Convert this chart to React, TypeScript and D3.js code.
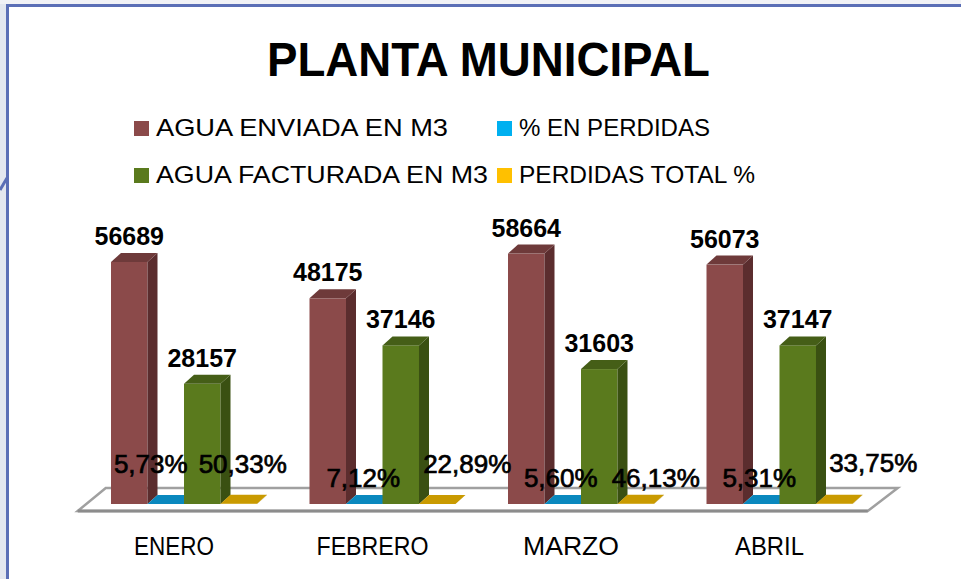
import React from "react";
import * as d3 from "d3";

const categories = ["ENERO", "FEBRERO", "MARZO", "ABRIL"];
const aguaEnviada = [56689, 48175, 58664, 56073];
const perdidasPct = [5.73, 7.12, 5.6, 5.31];
const aguaFacturada = [28157, 37146, 31603, 37147];
const perdidasTotal = [50.33, 22.89, 46.13, 33.75];
const seriesNames = ["AGUA ENVIADA EN M3", "% EN PERDIDAS", "AGUA FACTURADA EN M3", "PERDIDAS TOTAL %"];
const titleText = "PLANTA MUNICIPAL";

// layout (not data)
const W = 961;
const H = 579;
const DX = 10;
const DY = -9;
const pctLabelDx = [-15, -1, -2, -2];
const pctLabelDy = [-31, -17, -17, -17];
const totLabelDx = [4, 30, 20, 39];
const totLabelDy = [-31, -31, -17, -32];

const palette = [
  { legend: "#8B4A4A", front: "#8B4A4A", side: "#5B2D2E", top: "#6E3A3A" },
  { legend: "#00B0F0", front: "#009BD4", side: "#00678F", top: "#0A88BE" },
  { legend: "#5A7A1D", front: "#5A7A1D", side: "#3A5012", top: "#455E17" },
  { legend: "#FFC000", front: "#E0A800", side: "#8F6E00", top: "#C99A00" },
];

const fmtPct = (v: number) => d3.format(".2f")(v).replace(".", ",") + "%";

export default function App() {
  const seriesValues = [aguaEnviada, perdidasPct, aguaFacturada, perdidasTotal];
  const x = d3
    .scaleBand<string>()
    .domain(categories)
    .range([84.75, 878.75])
    .paddingInner(0.2645)
    .paddingOuter(0.13225);
  const xs = d3
    .scaleBand<number>()
    .domain([0, 1, 2, 3])
    .range([0, x.bandwidth()])
    .padding(0);
  const y = d3.scaleLinear().domain([0, 70000]).range([504, 504 - 70000 * 0.004269]);
  const y0 = y(0);
  const r = x.range();

  const floorFront = y0 + 7;
  const floorBack = y0 - 16;
  const floor = [
    [r[0] - 7, floorFront],
    [r[1] - 11, floorFront],
    [r[1] + 19, floorBack],
    [r[0] + 21, floorBack],
  ];

  const boxes: React.ReactNode[] = [];
  const labels: React.ReactNode[] = [];
  categories.forEach((c, ci) => {
    seriesValues.forEach((vals, si) => {
      const v = vals[ci];
      const x0 = (x(c) as number) + (xs(si) as number);
      const w = xs.bandwidth();
      const yt = y(v);
      const col = palette[si];
      boxes.push(
        <g key={`b-${ci}-${si}`}>
          <rect x={x0} y={yt} width={w} height={Math.max(0, y0 - yt)} fill={col.front} />
          <polygon
            points={`${x0 + w},${y0} ${x0 + w + DX},${y0 + DY} ${x0 + w + DX},${yt + DY} ${x0 + w},${yt}`}
            fill={col.side}
          />
          <polygon
            points={`${x0},${yt} ${x0 + w},${yt} ${x0 + w + DX},${yt + DY} ${x0 + DX},${yt + DY}`}
            fill={col.top}
          />
        </g>
      );
      const cx = x0 + w / 2;
      if (si === 0 || si === 2) {
        labels.push(
          <text
            key={`l-${ci}-${si}`}
            x={cx}
            y={yt - 17}
            textAnchor="middle"
            fontFamily="'Liberation Sans', Arial, sans-serif"
            fontWeight="bold"
            fontSize={25}
            fill="#000"
          >
            {String(v)}
          </text>
        );
      } else {
        const dx = si === 1 ? pctLabelDx[ci] : totLabelDx[ci];
        const dy = si === 1 ? pctLabelDy[ci] : totLabelDy[ci];
        labels.push(
          <text
            key={`l-${ci}-${si}`}
            x={cx + dx}
            y={y0 + dy}
            textAnchor="middle"
            fontFamily="'Liberation Sans', Arial, sans-serif"
            fontSize={26}
            fill="#000"
            stroke="#000"
            strokeWidth={0.7}
          >
            {fmtPct(v)}
          </text>
        );
      }
    });
  });

  const legendItems = [
    { si: 0, sx: 134, ty: 136, tl: 292 },
    { si: 1, sx: 497, ty: 136, tl: 191 },
    { si: 2, sx: 134, ty: 183, tl: 332 },
    { si: 3, sx: 497, ty: 183, tl: 236 },
  ];
  const catLabelW = [80, 112, 96, 69];

  return (
    <svg
      width={W}
      height={H}
      style={{ position: "absolute", left: 0, top: 0, display: "block" }}
    >
      <rect x={0} y={0} width={W} height={H} fill="#ffffff" />
      <rect x={0} y={0} width={7} height={H} fill="#E3E7EF" />
      <rect x={0} y={0} width={W} height={4} fill="#F1F2F6" />
      <rect x={6} y={4} width={W - 6} height={3} fill="#5B6FB6" />
      <rect x={6} y={4} width={3} height={H - 4} fill="#5B6FB6" />
      <line x1={0} y1={190} x2={7} y2={178} stroke="#5B6FB6" strokeWidth={3} />

      <text
        x={267}
        y={76}
        fontFamily="'Liberation Sans', Arial, sans-serif"
        fontWeight="bold"
        fontSize={49}
        textLength={443}
        lengthAdjust="spacingAndGlyphs"
        fill="#000"
      >
        {titleText}
      </text>

      {legendItems.map((it) => (
        <g key={`lg-${it.si}`}>
          <rect x={it.sx} y={it.ty - 15} width={15} height={15} fill={palette[it.si].legend} />
          <text
            x={it.sx + 22}
            y={it.ty}
            fontFamily="'Liberation Sans', Arial, sans-serif"
            fontSize={24}
            textLength={it.tl}
            lengthAdjust="spacingAndGlyphs"
            fill="#000"
          >
            {seriesNames[it.si]}
          </text>
        </g>
      ))}

      <polygon
        points={floor.map((p) => p.join(",")).join(" ")}
        fill="#ffffff"
        stroke="#A0A0A0"
        strokeWidth={2.5}
        strokeLinejoin="miter"
      />
      <line
        x1={floor[0][0]}
        y1={floorFront}
        x2={floor[1][0]}
        y2={floorFront}
        stroke="#8C8C8C"
        strokeWidth={3}
      />

      {boxes}
      {labels}

      {categories.map((c, ci) => (
        <text
          key={`c-${c}`}
          x={(x(c) as number) + x.bandwidth() / 2 - 10}
          y={555}
          textAnchor="middle"
          fontFamily="'Liberation Sans', Arial, sans-serif"
          fontSize={26}
          textLength={catLabelW[ci]}
          lengthAdjust="spacingAndGlyphs"
          fill="#000"
        >
          {c}
        </text>
      ))}
    </svg>
  );
}
